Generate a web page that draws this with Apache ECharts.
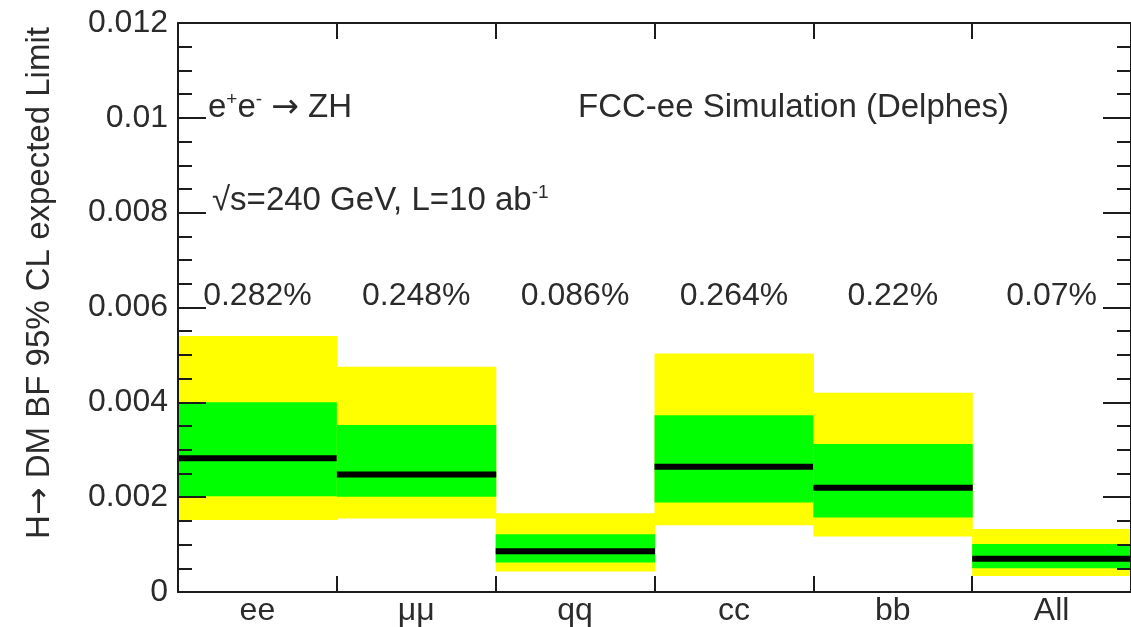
<!DOCTYPE html>
<html>
<head>
<meta charset="utf-8">
<script src="https://cdn.jsdelivr.net/npm/echarts@6/dist/echarts.min.js"></script>
<style>
  html, body { margin: 0; padding: 0; background: #ffffff; }
  #chart { width: 1131px; height: 627px; }
</style>
</head>
<body>
<div id="chart"></div>
<script>
// Decay channels of the recoiling Z boson
const categories = ['ee', 'μμ', 'qq', 'cc', 'bb', 'All'];
// Expected 95% CL upper limit on BF(H -> DM), median
const median = [0.00282, 0.00248, 0.00086, 0.00264, 0.0022, 0.0007];
// ±1σ band
const band1Up = [0.0040, 0.00352, 0.00122, 0.00373, 0.00312, 0.00101];
const band1Down = [0.00202, 0.00201, 0.00062, 0.00189, 0.00157, 0.0005];
// ±2σ band
const band2Up = [0.0054, 0.00475, 0.00166, 0.00503, 0.0042, 0.00133];
const band2Down = [0.00152, 0.00155, 0.00043, 0.00141, 0.00117, 0.00034];

const FONT = 'Liberation Sans, Arial, Helvetica, sans-serif';
const ARROW_FONT = 'DejaVu Sans, sans-serif';
const TEXT = '#2b2b2b';
const FRAME = '#1c1c1c';
const LABEL_Y = 0.00623;   // height of the per-channel limit text

const seriesData = categories.map((c, i) => [i, median[i], band2Down[i], band1Down[i], band1Up[i], band2Up[i]]);

function pctText(v) {
  return parseFloat((v * 100).toFixed(3)) + '%';
}

function renderBin(params, api) {
  const i = api.value(0);
  const w = api.size([1, 0])[0];
  const cx = api.coord([i, 0])[0];
  const x0 = cx - w / 2;
  const y = v => api.coord([i, v])[1];
  const band = (lo, hi, color) => ({
    type: 'rect',
    shape: { x: x0, y: y(hi), width: w + 0.6, height: y(lo) - y(hi) },
    style: { fill: color }
  });
  const m = y(api.value(1));
  return {
    type: 'group',
    children: [
      band(api.value(2), api.value(5), '#ffff00'),
      band(api.value(3), api.value(4), '#00ff00'),
      {
        type: 'rect',
        shape: { x: x0, y: m - 3, width: w + 0.6, height: 6 },
        style: { fill: '#000000' }
      },
      {
        type: 'text',
        style: {
          text: pctText(api.value(1)),
          x: cx, y: y(LABEL_Y),
          align: 'center', verticalAlign: 'middle',
          font: '32px ' + FONT, fill: TEXT
        }
      }
    ]
  };
}

const yAxisBase = {
  type: 'value',
  min: 0, max: 0.012, interval: 0.002,
  z: 5,
  splitLine: { show: false },
  axisLine: { show: true, onZero: false, lineStyle: { color: FRAME, width: 2 } },
  axisTick: { show: true, inside: true, length: 28, lineStyle: { color: FRAME, width: 2 } },
  minorTick: { show: true, splitNumber: 4, length: 14, lineStyle: { color: FRAME, width: 2 } },
  minorSplitLine: { show: false }
};

const xAxisBase = {
  type: 'category',
  data: categories,
  boundaryGap: true,
  z: 5,
  axisLine: { show: true, onZero: false, lineStyle: { color: FRAME, width: 2 } },
  axisTick: { show: true, inside: true, length: 16, alignWithLabel: false, lineStyle: { color: FRAME, width: 2 } },
  splitLine: { show: false }
};

// Rich-text styles shared by the annotations
const rich = {
  sup: { fontSize: 19, fontFamily: FONT, fill: TEXT, verticalAlign: 'top', padding: [0, 0, 16, 0] },
  arr: { fontSize: 33, fontFamily: ARROW_FONT, fill: TEXT }
};

const chart = echarts.init(document.getElementById('chart'), null, { renderer: 'canvas' });
chart.setOption({
  animation: false,
  backgroundColor: '#ffffff',
  grid: { left: 178, top: 23, width: 956, height: 569, containLabel: false },
  xAxis: [
    Object.assign({}, xAxisBase, {
      position: 'bottom',
      axisLabel: { show: true, fontSize: 32, fontFamily: FONT, color: TEXT, margin: 3 }
    }),
    Object.assign({}, xAxisBase, {
      position: 'top',
      axisLabel: { show: false }
    })
  ],
  yAxis: [
    Object.assign({}, yAxisBase, {
      position: 'left',
      axisLabel: {
        show: true, fontSize: 32, fontFamily: FONT, color: TEXT, margin: 10,
        formatter: v => String(parseFloat(v.toFixed(4)))
      }
    }),
    Object.assign({}, yAxisBase, {
      position: 'right',
      axisLabel: { show: false }
    })
  ],
  series: [{
    type: 'custom',
    xAxisIndex: 0,
    yAxisIndex: 0,
    z: 2,
    data: seriesData,
    renderItem: renderBin,
    clip: false
  }],
  graphic: [
    {
      type: 'text',
      x: 40, y: 283,
      rotation: Math.PI / 2,
      style: {
        text: 'H{arr|\u2192} DM BF 95% CL expected Limit',
        align: 'center', verticalAlign: 'middle',
        font: '33px ' + FONT, fill: TEXT,
        rich: rich
      }
    },
    {
      type: 'text',
      x: 208, y: 108,
      style: {
        text: 'e{sup|+}e{sup|-} {arr|\u2192} ZH',
        verticalAlign: 'middle',
        font: '33px ' + FONT, fill: TEXT,
        rich: rich
      }
    },
    {
      type: 'text',
      x: 578, y: 108,
      style: {
        text: 'FCC-ee Simulation (Delphes)',
        verticalAlign: 'middle',
        font: '33px ' + FONT, fill: TEXT
      }
    },
    {
      type: 'text',
      x: 212, y: 201,
      style: {
        text: '\u221As=240 GeV, L=10 ab{sup|-1}',
        verticalAlign: 'middle',
        font: '33px ' + FONT, fill: TEXT,
        rich: rich
      }
    }
  ]
});
</script>
</body>
</html>
